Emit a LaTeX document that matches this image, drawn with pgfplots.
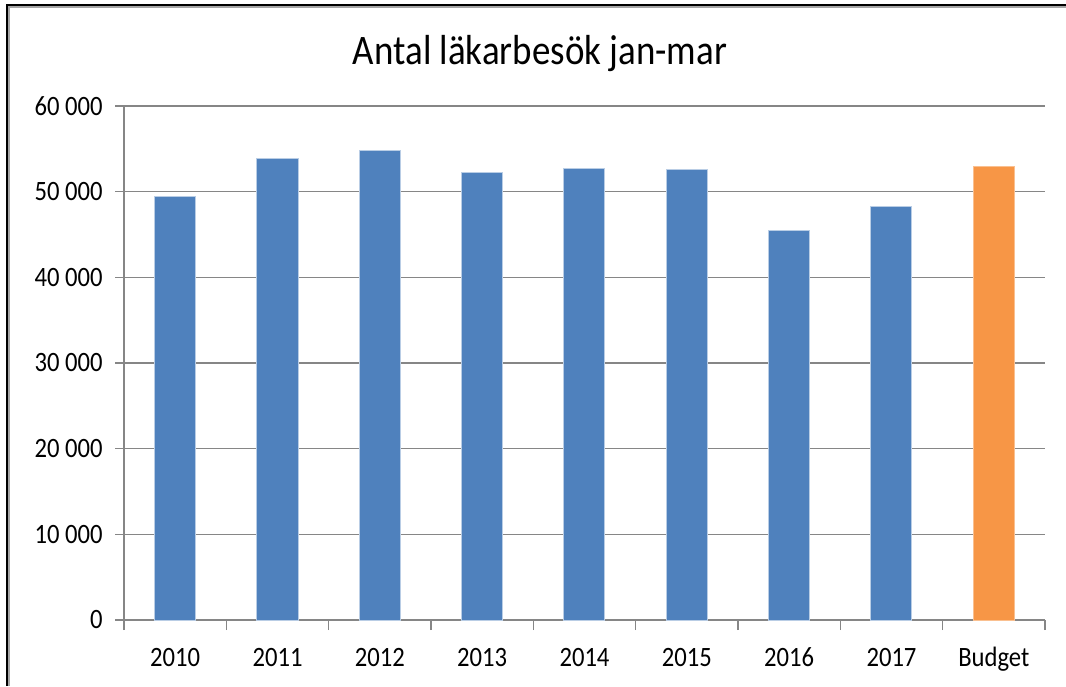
\documentclass[border=0pt]{standalone}
\usepackage{fontspec}
\setmainfont{Carlito}[FakeStretch=0.88]
\usepackage{pgfplots}
\pgfplotsset{compat=1.18}
\definecolor{barblue}{RGB}{79,129,189}
\definecolor{barorange}{RGB}{247,150,70}
\definecolor{edgeblue}{RGB}{185,205,229}
\definecolor{edgeorange}{RGB}{250,192,144}
\definecolor{gridgray}{RGB}{134,134,134}
\begin{document}
\begin{tikzpicture}
\useasboundingbox (0,0) rectangle (533pt,343pt);
\draw[black, line width=1.2pt] (3.6pt,0) -- (3.6pt,340.6pt) -- (533pt,340.6pt);
\draw[gray!70, line width=0.8pt] (4.6pt,0) -- (4.6pt,339.6pt) -- (533pt,339.6pt);
\node[anchor=base, inner sep=0pt] at (270pt,310.5pt) {\fontsize{21}{24}\selectfont Antal läkarbesök jan-mar};
\begin{axis}[
  at={(62pt,33pt)}, anchor=south west,
  scale only axis, width=460.5pt, height=257pt,
  xmin=-0.5, xmax=8.5, ymin=0, ymax=60000,
  scaled y ticks=false,
  axis x line=bottom, axis y line=left,
  axis line style={-, draw=gridgray, line width=0.75pt},
  tick align=outside,
  xtick={0,1,2,3,4,5,6,7,8},
  xticklabels={2010,2011,2012,2013,2014,2015,2016,2017,Budget},
  minor xtick={-0.5,0.5,1.5,2.5,3.5,4.5,5.5,6.5,7.5,8.5},
  every major x tick/.append style={draw=none},
  minor tick length=5pt, major tick length=4.5pt,
  every tick/.append style={draw=gridgray, line width=0.75pt},
  ytick={0,10000,20000,30000,40000,50000,60000},
  yticklabels={0,10 000,20 000,30 000,40 000,50 000,60 000},
  ymajorgrids, grid style={draw=gridgray, line width=0.75pt},
  ticklabel style={font=\fontsize{14}{16}\selectfont, text=black},
  xticklabel style={anchor=base, inner sep=0pt, yshift=-18.5pt},
  yticklabel style={anchor=east, inner sep=0pt, xshift=-6pt},
  clip=false,
]
\addplot[ybar, bar width=20.5pt, bar shift=0pt, fill=barblue, draw=edgeblue, line width=0.5pt]
  coordinates {(0,49450) (1,53920) (2,54800) (3,52290) (4,52710) (5,52560) (6,45430) (7,48260)};
\addplot[ybar, bar width=20.5pt, bar shift=0pt, fill=barorange, draw=edgeorange, line width=0.5pt]
  coordinates {(8,52990)};
\end{axis}
\end{tikzpicture}
\end{document}
